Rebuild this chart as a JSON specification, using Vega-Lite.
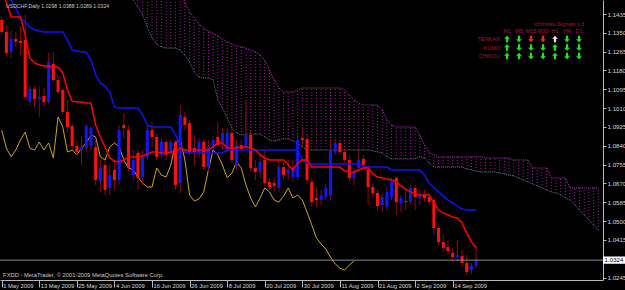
{
"$schema": "https://vega.github.io/schema/vega-lite/v6.json",
"width": 603, "height": 280,
"autosize": {"type": "none"},
"padding": {"left": 0, "top": 0, "right": 22, "bottom": 10},
"background": "#000000",
"config": {"view": {"stroke": null}, "axis": {"grid": false, "labelFont": "Liberation Sans", "domainColor": "#b8b8b8", "tickColor": "#b8b8b8", "labelColor": "#d8d8d8", "labelOverlap": false}, "text": {"font": "Liberation Sans"}},
"datasets": {
"bars": [
{"i":0,"o":1.1408,"h":1.1422,"l":1.1345,"c":1.1354,"tenkan":1.1534,"kijun":1.1589},
{"i":1,"o":1.1354,"h":1.1385,"l":1.1250,"c":1.1259,"tenkan":1.1489,"kijun":1.1521},
{"i":2,"o":1.1264,"h":1.1358,"l":1.1236,"c":1.1322,"tenkan":1.1422,"kijun":1.1498},
{"i":3,"o":1.1322,"h":1.1354,"l":1.1286,"c":1.1309,"tenkan":1.1422,"kijun":1.1462},
{"i":4,"o":1.1313,"h":1.1376,"l":1.1250,"c":1.1304,"tenkan":1.1422,"kijun":1.1417},
{"i":5,"o":1.1318,"h":1.1431,"l":1.1047,"c":1.1060,"tenkan":1.1340,"kijun":1.1399},
{"i":6,"o":1.1038,"h":1.1110,"l":1.1024,"c":1.1097,"tenkan":1.1236,"kijun":1.1376},
{"i":7,"o":1.1097,"h":1.1110,"l":1.1011,"c":1.1051,"tenkan":1.1214,"kijun":1.1363},
{"i":8,"o":1.1051,"h":1.1106,"l":1.0970,"c":1.1060,"tenkan":1.1205,"kijun":1.1358},
{"i":9,"o":1.1065,"h":1.1101,"l":1.1015,"c":1.1038,"tenkan":1.1200,"kijun":1.1354},
{"i":10,"o":1.1038,"h":1.1259,"l":1.1029,"c":1.1218,"tenkan":1.1200,"kijun":1.1354},
{"i":11,"o":1.1209,"h":1.1264,"l":1.1128,"c":1.1137,"tenkan":1.1196,"kijun":1.1354},
{"i":12,"o":1.1137,"h":1.1160,"l":1.1074,"c":1.1083,"tenkan":1.1196,"kijun":1.1354},
{"i":13,"o":1.1092,"h":1.1101,"l":1.0984,"c":1.0993,"tenkan":1.1169,"kijun":1.1354},
{"i":14,"o":1.0993,"h":1.1047,"l":1.0902,"c":1.0925,"tenkan":1.1092,"kijun":1.1318},
{"i":15,"o":1.0929,"h":1.0943,"l":1.0821,"c":1.0839,"tenkan":1.1042,"kijun":1.1272},
{"i":16,"o":1.0839,"h":1.0866,"l":1.0794,"c":1.0812,"tenkan":1.1038,"kijun":1.1268},
{"i":17,"o":1.0821,"h":1.0880,"l":1.0753,"c":1.0835,"tenkan":1.1038,"kijun":1.1264},
{"i":18,"o":1.0830,"h":1.0938,"l":1.0812,"c":1.0929,"tenkan":1.1033,"kijun":1.1264},
{"i":19,"o":1.0839,"h":1.0929,"l":1.0821,"c":1.0920,"tenkan":1.1033,"kijun":1.1227},
{"i":20,"o":1.0835,"h":1.0866,"l":1.0663,"c":1.0686,"tenkan":1.0934,"kijun":1.1160},
{"i":21,"o":1.0677,"h":1.0776,"l":1.0632,"c":1.0740,"tenkan":1.0880,"kijun":1.1124},
{"i":22,"o":1.0753,"h":1.0776,"l":1.0618,"c":1.0641,"tenkan":1.0835,"kijun":1.1110},
{"i":23,"o":1.0650,"h":1.0753,"l":1.0618,"c":1.0708,"tenkan":1.0785,"kijun":1.1083},
{"i":24,"o":1.0731,"h":1.0776,"l":1.0641,"c":1.0686,"tenkan":1.0771,"kijun":1.1015},
{"i":25,"o":1.0686,"h":1.0934,"l":1.0663,"c":1.0911,"tenkan":1.0767,"kijun":1.1011},
{"i":26,"o":1.0934,"h":1.0988,"l":1.0875,"c":1.0920,"tenkan":1.0776,"kijun":1.1011},
{"i":27,"o":1.0911,"h":1.0934,"l":1.0722,"c":1.0740,"tenkan":1.0790,"kijun":1.1011},
{"i":28,"o":1.0708,"h":1.0821,"l":1.0686,"c":1.0776,"tenkan":1.0790,"kijun":1.1011},
{"i":29,"o":1.0808,"h":1.0821,"l":1.0641,"c":1.0695,"tenkan":1.0790,"kijun":1.1011},
{"i":30,"o":1.0699,"h":1.0821,"l":1.0663,"c":1.0790,"tenkan":1.0794,"kijun":1.0979},
{"i":31,"o":1.0790,"h":1.0934,"l":1.0776,"c":1.0911,"tenkan":1.0803,"kijun":1.0934},
{"i":32,"o":1.0911,"h":1.0948,"l":1.0835,"c":1.0880,"tenkan":1.0812,"kijun":1.0925},
{"i":33,"o":1.0880,"h":1.0898,"l":1.0776,"c":1.0790,"tenkan":1.0812,"kijun":1.0925},
{"i":34,"o":1.0799,"h":1.0875,"l":1.0785,"c":1.0857,"tenkan":1.0808,"kijun":1.0925},
{"i":35,"o":1.0857,"h":1.0866,"l":1.0776,"c":1.0799,"tenkan":1.0808,"kijun":1.0925},
{"i":36,"o":1.0808,"h":1.0866,"l":1.0790,"c":1.0857,"tenkan":1.0812,"kijun":1.0925},
{"i":37,"o":1.0857,"h":1.0866,"l":1.0641,"c":1.0663,"tenkan":1.0812,"kijun":1.0889},
{"i":38,"o":1.0672,"h":1.1024,"l":1.0627,"c":1.0979,"tenkan":1.0830,"kijun":1.0844},
{"i":39,"o":1.0970,"h":1.0993,"l":1.0911,"c":1.0934,"tenkan":1.0821,"kijun":1.0812},
{"i":40,"o":1.0943,"h":1.0957,"l":1.0799,"c":1.0812,"tenkan":1.0821,"kijun":1.0808},
{"i":41,"o":1.0830,"h":1.0889,"l":1.0753,"c":1.0812,"tenkan":1.0821,"kijun":1.0808},
{"i":42,"o":1.0812,"h":1.0875,"l":1.0785,"c":1.0857,"tenkan":1.0821,"kijun":1.0808},
{"i":43,"o":1.0857,"h":1.0866,"l":1.0731,"c":1.0744,"tenkan":1.0821,"kijun":1.0808},
{"i":44,"o":1.0744,"h":1.0866,"l":1.0722,"c":1.0835,"tenkan":1.0821,"kijun":1.0808},
{"i":45,"o":1.0835,"h":1.0884,"l":1.0821,"c":1.0866,"tenkan":1.0835,"kijun":1.0808},
{"i":46,"o":1.0880,"h":1.0948,"l":1.0835,"c":1.0844,"tenkan":1.0853,"kijun":1.0808},
{"i":47,"o":1.0857,"h":1.0920,"l":1.0821,"c":1.0898,"tenkan":1.0853,"kijun":1.0808},
{"i":48,"o":1.0821,"h":1.0920,"l":1.0812,"c":1.0898,"tenkan":1.0830,"kijun":1.0821},
{"i":49,"o":1.0898,"h":1.0920,"l":1.0762,"c":1.0776,"tenkan":1.0830,"kijun":1.0821},
{"i":50,"o":1.0753,"h":1.0866,"l":1.0731,"c":1.0844,"tenkan":1.0830,"kijun":1.0821},
{"i":51,"o":1.0844,"h":1.0866,"l":1.0812,"c":1.0826,"tenkan":1.0835,"kijun":1.0821},
{"i":52,"o":1.0830,"h":1.1047,"l":1.0821,"c":1.0889,"tenkan":1.0835,"kijun":1.0821},
{"i":53,"o":1.0889,"h":1.0911,"l":1.0722,"c":1.0740,"tenkan":1.0830,"kijun":1.0821},
{"i":54,"o":1.0740,"h":1.0776,"l":1.0686,"c":1.0722,"tenkan":1.0821,"kijun":1.0821},
{"i":55,"o":1.0722,"h":1.0799,"l":1.0695,"c":1.0767,"tenkan":1.0799,"kijun":1.0821},
{"i":56,"o":1.0776,"h":1.0821,"l":1.0659,"c":1.0672,"tenkan":1.0785,"kijun":1.0821},
{"i":57,"o":1.0677,"h":1.0695,"l":1.0641,"c":1.0654,"tenkan":1.0776,"kijun":1.0821},
{"i":58,"o":1.0672,"h":1.0695,"l":1.0632,"c":1.0659,"tenkan":1.0776,"kijun":1.0821},
{"i":59,"o":1.0650,"h":1.0776,"l":1.0632,"c":1.0744,"tenkan":1.0776,"kijun":1.0821},
{"i":60,"o":1.0744,"h":1.0767,"l":1.0686,"c":1.0708,"tenkan":1.0776,"kijun":1.0821},
{"i":61,"o":1.0713,"h":1.0776,"l":1.0686,"c":1.0731,"tenkan":1.0753,"kijun":1.0821},
{"i":62,"o":1.0699,"h":1.0776,"l":1.0677,"c":1.0744,"tenkan":1.0731,"kijun":1.0821},
{"i":63,"o":1.0699,"h":1.0889,"l":1.0686,"c":1.0866,"tenkan":1.0762,"kijun":1.0821},
{"i":64,"o":1.0875,"h":1.0925,"l":1.0835,"c":1.0866,"tenkan":1.0776,"kijun":1.0776},
{"i":65,"o":1.0871,"h":1.0889,"l":1.0668,"c":1.0686,"tenkan":1.0776,"kijun":1.0762},
{"i":66,"o":1.0677,"h":1.0695,"l":1.0564,"c":1.0586,"tenkan":1.0744,"kijun":1.0758},
{"i":67,"o":1.0604,"h":1.0654,"l":1.0564,"c":1.0595,"tenkan":1.0744,"kijun":1.0758},
{"i":68,"o":1.0595,"h":1.0641,"l":1.0573,"c":1.0618,"tenkan":1.0744,"kijun":1.0758},
{"i":69,"o":1.0609,"h":1.0668,"l":1.0595,"c":1.0650,"tenkan":1.0744,"kijun":1.0758},
{"i":70,"o":1.0618,"h":1.0866,"l":1.0595,"c":1.0821,"tenkan":1.0744,"kijun":1.0758},
{"i":71,"o":1.0812,"h":1.0871,"l":1.0799,"c":1.0853,"tenkan":1.0744,"kijun":1.0758},
{"i":72,"o":1.0853,"h":1.0866,"l":1.0799,"c":1.0812,"tenkan":1.0744,"kijun":1.0758},
{"i":73,"o":1.0812,"h":1.0830,"l":1.0762,"c":1.0776,"tenkan":1.0726,"kijun":1.0758},
{"i":74,"o":1.0776,"h":1.0799,"l":1.0677,"c":1.0695,"tenkan":1.0722,"kijun":1.0758},
{"i":75,"o":1.0695,"h":1.0740,"l":1.0663,"c":1.0722,"tenkan":1.0722,"kijun":1.0758},
{"i":76,"o":1.0740,"h":1.0821,"l":1.0722,"c":1.0776,"tenkan":1.0731,"kijun":1.0758},
{"i":77,"o":1.0781,"h":1.0799,"l":1.0740,"c":1.0753,"tenkan":1.0740,"kijun":1.0744},
{"i":78,"o":1.0731,"h":1.0753,"l":1.0573,"c":1.0654,"tenkan":1.0740,"kijun":1.0744},
{"i":79,"o":1.0654,"h":1.0672,"l":1.0609,"c":1.0627,"tenkan":1.0713,"kijun":1.0744},
{"i":80,"o":1.0627,"h":1.0641,"l":1.0550,"c":1.0568,"tenkan":1.0699,"kijun":1.0744},
{"i":81,"o":1.0573,"h":1.0627,"l":1.0541,"c":1.0609,"tenkan":1.0695,"kijun":1.0744},
{"i":82,"o":1.0564,"h":1.0650,"l":1.0550,"c":1.0632,"tenkan":1.0690,"kijun":1.0744},
{"i":83,"o":1.0609,"h":1.0695,"l":1.0595,"c":1.0677,"tenkan":1.0686,"kijun":1.0731},
{"i":84,"o":1.0695,"h":1.0699,"l":1.0528,"c":1.0586,"tenkan":1.0677,"kijun":1.0731},
{"i":85,"o":1.0582,"h":1.0618,"l":1.0541,"c":1.0604,"tenkan":1.0659,"kijun":1.0731},
{"i":86,"o":1.0591,"h":1.0641,"l":1.0550,"c":1.0586,"tenkan":1.0645,"kijun":1.0731},
{"i":87,"o":1.0586,"h":1.0663,"l":1.0573,"c":1.0650,"tenkan":1.0632,"kijun":1.0731},
{"i":88,"o":1.0650,"h":1.0663,"l":1.0550,"c":1.0609,"tenkan":1.0622,"kijun":1.0731},
{"i":89,"o":1.0604,"h":1.0641,"l":1.0573,"c":1.0618,"tenkan":1.0618,"kijun":1.0731},
{"i":90,"o":1.0618,"h":1.0641,"l":1.0586,"c":1.0604,"tenkan":1.0618,"kijun":1.0708},
{"i":91,"o":1.0609,"h":1.0627,"l":1.0573,"c":1.0586,"tenkan":1.0618,"kijun":1.0672},
{"i":92,"o":1.0595,"h":1.0604,"l":1.0437,"c":1.0469,"tenkan":1.0582,"kijun":1.0650},
{"i":93,"o":1.0469,"h":1.0483,"l":1.0392,"c":1.0406,"tenkan":1.0550,"kijun":1.0632},
{"i":94,"o":1.0406,"h":1.0437,"l":1.0361,"c":1.0379,"tenkan":1.0537,"kijun":1.0613},
{"i":95,"o":1.0383,"h":1.0415,"l":1.0347,"c":1.0365,"tenkan":1.0528,"kijun":1.0595},
{"i":96,"o":1.0356,"h":1.0379,"l":1.0316,"c":1.0338,"tenkan":1.0519,"kijun":1.0582},
{"i":97,"o":1.0338,"h":1.0415,"l":1.0316,"c":1.0347,"tenkan":1.0514,"kijun":1.0568},
{"i":98,"o":1.0343,"h":1.0370,"l":1.0297,"c":1.0311,"tenkan":1.0492,"kijun":1.0555},
{"i":99,"o":1.0311,"h":1.0347,"l":1.0257,"c":1.0270,"tenkan":1.0446,"kijun":1.0550},
{"i":100,"o":1.0279,"h":1.0311,"l":1.0261,"c":1.0298,"tenkan":1.0406,"kijun":1.0550},
{"i":101,"o":1.0298,"h":1.0388,"l":1.0289,"c":1.0324,"tenkan":1.0379,"kijun":1.0550}
],
"kumo": [
{"i":24,"a":1.1625,"b":1.1769},{"i":25,"a":1.1589,"b":1.1769},{"i":26,"a":1.1557,"b":1.1769},{"i":27,"a":1.1525,"b":1.1769},
{"i":28,"a":1.1498,"b":1.1769},{"i":29,"a":1.1467,"b":1.1769},{"i":30,"a":1.1431,"b":1.1769},{"i":31,"a":1.1376,"b":1.1769},
{"i":32,"a":1.1327,"b":1.1769},{"i":33,"a":1.1299,"b":1.1769},{"i":34,"a":1.1286,"b":1.1769},{"i":35,"a":1.1281,"b":1.1769},
{"i":36,"a":1.1281,"b":1.1769},{"i":37,"a":1.1281,"b":1.1700},{"i":38,"a":1.1272,"b":1.1560},{"i":39,"a":1.1250,"b":1.1485},
{"i":40,"a":1.1218,"b":1.1444},{"i":41,"a":1.1173,"b":1.1417},{"i":42,"a":1.1151,"b":1.1390},{"i":43,"a":1.1146,"b":1.1372},
{"i":44,"a":1.1146,"b":1.1358},{"i":45,"a":1.1137,"b":1.1349},{"i":46,"a":1.1047,"b":1.1336},{"i":47,"a":1.1011,"b":1.1322},
{"i":48,"a":1.0966,"b":1.1309},{"i":49,"a":1.0920,"b":1.1299},{"i":50,"a":1.0898,"b":1.1290},{"i":51,"a":1.0889,"b":1.1286},
{"i":52,"a":1.0893,"b":1.1281},{"i":53,"a":1.0893,"b":1.1272},{"i":54,"a":1.0893,"b":1.1264},{"i":55,"a":1.0893,"b":1.1250},
{"i":56,"a":1.0880,"b":1.1227},{"i":57,"a":1.0866,"b":1.1182},{"i":58,"a":1.0862,"b":1.1137},{"i":59,"a":1.0866,"b":1.1101},
{"i":60,"a":1.0871,"b":1.1083},{"i":61,"a":1.0871,"b":1.1083},{"i":62,"a":1.0862,"b":1.1083},{"i":63,"a":1.0853,"b":1.1092},
{"i":64,"a":1.0835,"b":1.1101},{"i":65,"a":1.0821,"b":1.1101},{"i":66,"a":1.0821,"b":1.1101},{"i":67,"a":1.0821,"b":1.1101},
{"i":68,"a":1.0821,"b":1.1101},{"i":69,"a":1.0821,"b":1.1101},{"i":70,"a":1.0821,"b":1.1101},{"i":71,"a":1.0821,"b":1.1101},
{"i":72,"a":1.0821,"b":1.1101},{"i":73,"a":1.0821,"b":1.1092},{"i":74,"a":1.0821,"b":1.1069},{"i":75,"a":1.0821,"b":1.1047},
{"i":76,"a":1.0821,"b":1.1033},{"i":77,"a":1.0821,"b":1.1024},{"i":78,"a":1.0821,"b":1.1024},{"i":79,"a":1.0817,"b":1.1024},
{"i":80,"a":1.0812,"b":1.1024},{"i":81,"a":1.0808,"b":1.1002},{"i":82,"a":1.0790,"b":1.0957},{"i":83,"a":1.0781,"b":1.0934},
{"i":84,"a":1.0781,"b":1.0925},{"i":85,"a":1.0781,"b":1.0925},{"i":86,"a":1.0781,"b":1.0925},{"i":87,"a":1.0781,"b":1.0925},
{"i":88,"a":1.0781,"b":1.0925},{"i":89,"a":1.0790,"b":1.0889},{"i":90,"a":1.0785,"b":1.0844},{"i":91,"a":1.0762,"b":1.0812},
{"i":92,"a":1.0744,"b":1.0799},{"i":93,"a":1.0744,"b":1.0790},{"i":94,"a":1.0744,"b":1.0790},{"i":95,"a":1.0744,"b":1.0790},
{"i":96,"a":1.0744,"b":1.0790},{"i":97,"a":1.0744,"b":1.0790},{"i":98,"a":1.0744,"b":1.0790},{"i":99,"a":1.0735,"b":1.0790},
{"i":100,"a":1.0731,"b":1.0790},{"i":101,"a":1.0726,"b":1.0790},{"i":102,"a":1.0722,"b":1.0790},{"i":103,"a":1.0722,"b":1.0785},
{"i":104,"a":1.0722,"b":1.0785},{"i":105,"a":1.0722,"b":1.0785},{"i":106,"a":1.0717,"b":1.0785},{"i":107,"a":1.0713,"b":1.0785},
{"i":108,"a":1.0708,"b":1.0785},{"i":109,"a":1.0704,"b":1.0776},{"i":110,"a":1.0695,"b":1.0776},{"i":111,"a":1.0686,"b":1.0776},
{"i":112,"a":1.0677,"b":1.0776},{"i":113,"a":1.0668,"b":1.0740},{"i":114,"a":1.0659,"b":1.0740},{"i":115,"a":1.0650,"b":1.0740},
{"i":116,"a":1.0641,"b":1.0740},{"i":117,"a":1.0632,"b":1.0695},{"i":118,"a":1.0627,"b":1.0695},{"i":119,"a":1.0618,"b":1.0695},
{"i":120,"a":1.0604,"b":1.0695},{"i":121,"a":1.0595,"b":1.0650},{"i":122,"a":1.0573,"b":1.0650},{"i":123,"a":1.0550,"b":1.0650},
{"i":124,"a":1.0528,"b":1.0650},{"i":125,"a":1.0505,"b":1.0650},{"i":126,"a":1.0483,"b":1.0650},{"i":127,"a":1.0460,"b":1.0650}
],
"chikou": [
{"i":0,"close":1.0911},{"i":1,"close":1.0830},{"i":2,"close":1.0790},{"i":3,"close":1.0821},{"i":4,"close":1.0866},
{"i":5,"close":1.0902},{"i":6,"close":1.0830},{"i":7,"close":1.0821},{"i":8,"close":1.0857},{"i":9,"close":1.0821},
{"i":10,"close":1.0853},{"i":11,"close":1.0785},{"i":12,"close":1.0970},{"i":13,"close":1.0925},{"i":14,"close":1.0812},
{"i":15,"close":1.0821},{"i":16,"close":1.0799},{"i":17,"close":1.0830},{"i":18,"close":1.0853},{"i":19,"close":1.0889},
{"i":20,"close":1.0880},{"i":21,"close":1.0790},{"i":22,"close":1.0776},{"i":23,"close":1.0835},{"i":24,"close":1.0853},
{"i":25,"close":1.0835},{"i":26,"close":1.0776},{"i":27,"close":1.0740},{"i":28,"close":1.0731},{"i":29,"close":1.0699},
{"i":30,"close":1.0672},{"i":31,"close":1.0654},{"i":32,"close":1.0654},{"i":33,"close":1.0740},{"i":34,"close":1.0708},
{"i":35,"close":1.0699},{"i":36,"close":1.0753},{"i":37,"close":1.0853},{"i":38,"close":1.0871},{"i":39,"close":1.0776},
{"i":40,"close":1.0618},{"i":41,"close":1.0591},{"i":42,"close":1.0600},{"i":43,"close":1.0632},{"i":44,"close":1.0731},
{"i":45,"close":1.0821},{"i":46,"close":1.0799},{"i":47,"close":1.0753},{"i":48,"close":1.0695},{"i":49,"close":1.0717},
{"i":50,"close":1.0767},{"i":51,"close":1.0740},{"i":52,"close":1.0663},{"i":53,"close":1.0604},{"i":54,"close":1.0564},
{"i":55,"close":1.0604},{"i":56,"close":1.0650},{"i":57,"close":1.0632},{"i":58,"close":1.0595},{"i":59,"close":1.0586},
{"i":60,"close":1.0613},{"i":61,"close":1.0650},{"i":62,"close":1.0604},{"i":63,"close":1.0618},{"i":64,"close":1.0595},
{"i":65,"close":1.0541},{"i":66,"close":1.0483},{"i":67,"close":1.0424},{"i":68,"close":1.0397},{"i":69,"close":1.0374},
{"i":70,"close":1.0338},{"i":71,"close":1.0307},{"i":72,"close":1.0288},{"i":73,"close":1.0279},{"i":74,"close":1.0302},
{"i":75,"close":1.0320}
],
"last": [{"price": 1.0324}],
"info": [{"title": "USDCHF,Daily  1.0298 1.0388 1.0289 1.0324", "copy": "FXDD - MetaTrader, © 2001-2009 MetaQuotes Software Corp.", "panel": "ichimoku Signals v.3"}],
"signals": [
{"line":"TENKAN","tf":"M1","sig":"up","state":"normal"},
{"line":"TENKAN","tf":"M5","sig":"down","state":"normal"},
{"line":"TENKAN","tf":"M15","sig":"down","state":"alert"},
{"line":"TENKAN","tf":"M30","sig":"down","state":"alert"},
{"line":"TENKAN","tf":"H1","sig":"up","state":"neutral"},
{"line":"TENKAN","tf":"H4","sig":"down","state":"normal"},
{"line":"TENKAN","tf":"D1","sig":"down","state":"normal"},
{"line":"KUMO","tf":"M1","sig":"up","state":"normal"},
{"line":"KUMO","tf":"M5","sig":"down","state":"normal"},
{"line":"KUMO","tf":"M15","sig":"down","state":"normal"},
{"line":"KUMO","tf":"M30","sig":"down","state":"normal"},
{"line":"KUMO","tf":"H1","sig":"up","state":"normal"},
{"line":"KUMO","tf":"H4","sig":"down","state":"normal"},
{"line":"KUMO","tf":"D1","sig":"down","state":"normal"},
{"line":"CHIKOU","tf":"M1","sig":"up","state":"normal"},
{"line":"CHIKOU","tf":"M5","sig":"up","state":"normal"},
{"line":"CHIKOU","tf":"M15","sig":"down","state":"normal"},
{"line":"CHIKOU","tf":"M30","sig":"down","state":"normal"},
{"line":"CHIKOU","tf":"H1","sig":"up","state":"normal"},
{"line":"CHIKOU","tf":"H4","sig":"down","state":"normal"},
{"line":"CHIKOU","tf":"D1","sig":"down","state":"normal"}
]
},
"layer": [
{
"layer": [
{"data": {"name": "kumo"},
 "mark": {"type": "rule", "color": "#a81ca8", "strokeWidth": 1, "strokeDash": [1, 2], "clip": true},
 "encoding": {
  "x": {"field": "i", "type": "quantitative", "title": null, "scale": {"domain": [-0.36, 128.0], "nice": false, "zero": false},
        "axis": {"orient": "bottom", "values": [0,8,16,24,32,40,48,56,64,72,80,88,96], "tickCount": 40, "labelExpr": "['1 May 2009','13 May 2009','25 May 2009','4 Jun 2009','16 Jun 2009','26 Jun 2009','8 Jul 2009','20 Jul 2009','30 Jul 2009','11 Aug 2009','21 Aug 2009','2 Sep 2009','14 Sep 2009'][round(datum.value/8)]", "labelAlign": "left", "labelBaseline": "top", "labelOffset": 1, "tickSize": 7, "labelPadding": -5, "labelFontSize": 5.8, "labelOverlap": false, "labelBound": false, "labelFlush": false}},
  "y": {"field": "a", "type": "quantitative", "title": null, "scale": {"domain": [1.02343, 1.14982], "nice": false, "zero": false},
        "axis": {"orient": "right", "values": [1.1435,1.135,1.1265,1.118,1.1095,1.101,1.0925,1.084,1.0755,1.067,1.0585,1.05,1.0415,1.0245], "tickCount": 40, "format": ".4f", "tickSize": 3, "labelPadding": 1, "labelFontSize": 6.2, "labelOverlap": false, "labelBound": false, "labelFlush": false}},
  "y2": {"field": "b"}
 }},
{"data": {"name": "kumo"},
 "mark": {"type": "line", "color": "#4d7d8c", "strokeWidth": 1, "strokeDash": [1, 1], "clip": true},
 "encoding": {"x": {"field": "i", "type": "quantitative", "title": null}, "y": {"field": "a", "type": "quantitative", "title": null}}},
{"data": {"name": "kumo"},
 "mark": {"type": "line", "color": "#c22cc2", "strokeWidth": 1, "strokeDash": [1, 1], "clip": true},
 "encoding": {"x": {"field": "i", "type": "quantitative", "title": null}, "y": {"field": "b", "type": "quantitative", "title": null}}},
{"data": {"name": "chikou"},
 "mark": {"type": "line", "color": "#c9a227", "strokeWidth": 1, "clip": true},
 "encoding": {"x": {"field": "i", "type": "quantitative", "title": null}, "y": {"field": "close", "type": "quantitative", "title": null}}},
{"data": {"name": "bars"},
 "mark": {"type": "rule", "color": "#8b0a14", "strokeWidth": 1, "clip": true},
 "encoding": {"x": {"field": "i", "type": "quantitative", "title": null}, "y": {"field": "h", "type": "quantitative", "title": null}, "y2": {"field": "l"}}},
{"data": {"name": "bars"},
 "mark": {"type": "rule", "strokeWidth": 3, "clip": true},
 "encoding": {"x": {"field": "i", "type": "quantitative", "title": null}, "y": {"field": "o", "type": "quantitative", "title": null}, "y2": {"field": "c"},
   "color": {"condition": {"test": "datum.c >= datum.o", "value": "#1414ff"}, "value": "#ff1010"}}},
{"data": {"name": "bars"},
 "mark": {"type": "line", "color": "#1010ff", "strokeWidth": 1.5, "clip": true},
 "encoding": {"x": {"field": "i", "type": "quantitative", "title": null}, "y": {"field": "kijun", "type": "quantitative", "title": null}}},
{"data": {"name": "bars"},
 "mark": {"type": "line", "color": "#ff0000", "strokeWidth": 1.5, "clip": true},
 "encoding": {"x": {"field": "i", "type": "quantitative", "title": null}, "y": {"field": "tenkan", "type": "quantitative", "title": null}}},
{"data": {"name": "last"},
 "mark": {"type": "rule", "color": "#8a8a8a", "strokeWidth": 1},
 "encoding": {"y": {"field": "price", "type": "quantitative", "title": null}}}
]
},
{
"layer": [
{"data": {"name": "last"},
 "mark": {"type": "point", "filled": true, "color": "#ffffff", "opacity": 1, "size": 484, "shape": "M-1,-0.33L1,-0.33L1,0.33L-1,0.33Z", "strokeWidth": 0},
 "encoding": {"x": {"datum": 130.35, "type": "quantitative", "scale": {"domain": [-0.36, 128.0], "nice": false, "zero": false}, "axis": null}, "y": {"field": "price", "type": "quantitative", "scale": {"domain": [1.02343, 1.14982], "nice": false, "zero": false}, "axis": null}}},
{"data": {"name": "last"},
 "mark": {"type": "text", "color": "#000000", "fontSize": 6.2, "align": "center", "baseline": "middle"},
 "encoding": {"x": {"datum": 130.35, "type": "quantitative", "axis": null}, "y": {"field": "price", "type": "quantitative", "axis": null}, "text": {"field": "price", "format": ".4f"}}},
{"data": {"name": "info"},
 "mark": {"type": "text", "color": "#c8c8c8", "fontSize": 5.2, "align": "left", "baseline": "middle"},
 "encoding": {"x": {"datum": 0.9, "type": "quantitative", "axis": null}, "y": {"datum": 1.1469, "type": "quantitative", "axis": null}, "text": {"field": "title"}}},
{"data": {"name": "info"},
 "mark": {"type": "text", "color": "#c8c8c8", "fontSize": 5.8, "align": "left", "baseline": "middle"},
 "encoding": {"x": {"datum": 0.3, "type": "quantitative", "axis": null}, "y": {"datum": 1.0257, "type": "quantitative", "axis": null}, "text": {"field": "copy"}}}
]
},
{
"data": {"name": "signals"},
"layer": [
{"mark": {"type": "point", "filled": true, "size": 42, "opacity": 1, "strokeWidth": 0},
 "encoding": {
  "x": {"field": "tf", "type": "ordinal", "scale": {"type": "point", "domain": ["lbl","M1","M5","M15","M30","H1","H4","D1"], "range": [495, 579], "padding": 0}, "axis": null},
  "y": {"field": "line", "type": "ordinal", "scale": {"type": "point", "domain": ["hdr","TENKAN","KUMO","CHIKOU"], "range": [30.5, 56], "padding": 0}, "axis": null},
  "shape": {"field": "sig", "type": "nominal", "scale": {"domain": ["up","down"], "range": ["M0,-1L0.9,-0.1L0.35,-0.1L0.35,1L-0.35,1L-0.35,-0.1L-0.9,-0.1Z", "M0,1L0.9,0.1L0.35,0.1L0.35,-1L-0.35,-1L-0.35,0.1L-0.9,0.1Z"]}, "legend": null},
  "color": {"field": "state", "type": "nominal", "scale": {"domain": ["normal","alert","neutral"], "range": ["#1ee61e","#ff2020","#e6e6e6"]}, "legend": null}
 }},
{"transform": [{"filter": "datum.line == 'TENKAN'"}],
 "mark": {"type": "text", "color": "#b01235", "fontSize": 5.5, "align": "center", "baseline": "middle"},
 "encoding": {"x": {"field": "tf", "type": "ordinal", "axis": null}, "y": {"datum": "hdr", "type": "ordinal", "axis": null}, "text": {"field": "tf"}}},
{"transform": [{"filter": "datum.tf == 'M1'"}],
 "mark": {"type": "text", "color": "#b01235", "fontSize": 5.5, "align": "right", "baseline": "middle", "dx": 5},
 "encoding": {"x": {"datum": "lbl", "type": "ordinal", "axis": null}, "y": {"field": "line", "type": "ordinal", "axis": null}, "text": {"field": "line"}}},
{"data": {"name": "info"},
 "mark": {"type": "text", "color": "#b01235", "fontSize": 5.5, "align": "center", "baseline": "middle", "dx": 4, "dy": -6.5},
 "encoding": {"x": {"datum": "H1", "type": "ordinal", "axis": null}, "y": {"datum": "hdr", "type": "ordinal", "axis": null}, "text": {"field": "panel"}}}
]
}
],
"resolve": {"scale": {"x": "independent", "y": "independent", "color": "independent", "shape": "independent"}}
}
